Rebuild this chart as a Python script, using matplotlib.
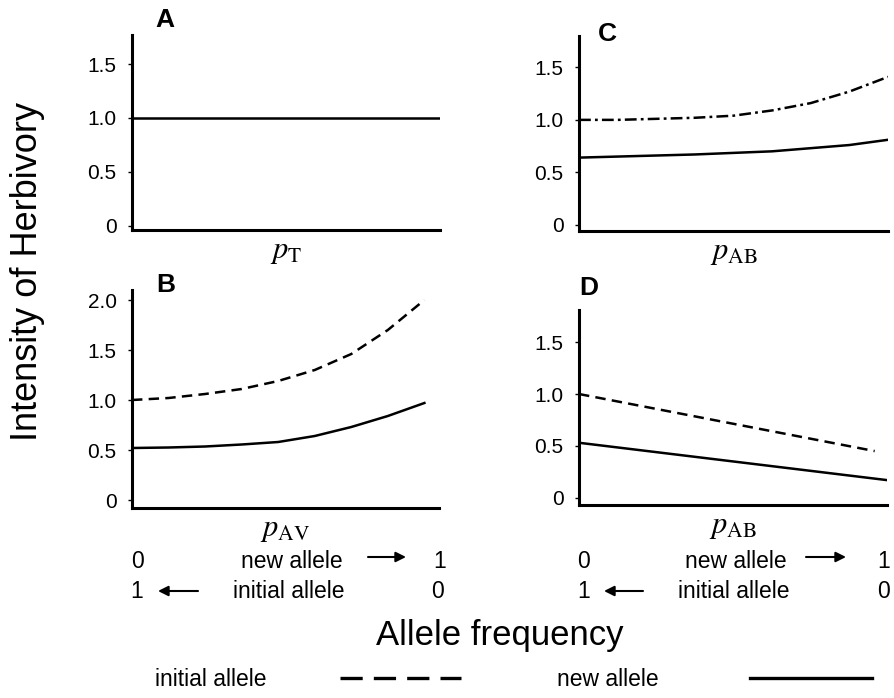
import matplotlib
matplotlib.use("Agg")
import matplotlib.pyplot as plt
from matplotlib.lines import Line2D

plt.rcParams['font.family'] = ['Liberation Sans', 'DejaVu Sans']
plt.rcParams['mathtext.fontset'] = 'stix'
plt.rcParams['lines.scale_dashes'] = False

W, H = 894, 698

# ---------------- data ----------------
# Panel A (p_T)
a_x = [0.0, 1.0]
a_new = [1.0, 1.0]

# Panel B (p_AV)
b_x = [0.0, 0.125, 0.25, 0.375, 0.5, 0.625, 0.75, 0.875, 1.0]
b_initial = [1.0, 1.02, 1.06, 1.11, 1.19, 1.30, 1.46, 1.70, 2.0]
b_new = [0.52, 0.525, 0.535, 0.555, 0.58, 0.64, 0.73, 0.84, 0.97]

# Panel C (p_AB)
c_x = [0.0, 0.125, 0.25, 0.375, 0.5, 0.625, 0.75, 0.875, 1.0]
c_other = [1.0, 1.0, 1.01, 1.02, 1.04, 1.09, 1.16, 1.27, 1.41]
c_new = [0.64, 0.65, 0.66, 0.67, 0.685, 0.70, 0.73, 0.76, 0.81]

# Panel D (p_AB)
d_x_initial = [0.0, 0.96]
d_initial = [1.0, 0.45]
d_x_new = [0.0, 1.0]
d_new = [0.53, 0.17]

ticks_a = [0, 0.5, 1.0, 1.5]
ticklabels_a = ['0', '0.5', '1.0', '1.5']
ticks_b = [0, 0.5, 1.0, 1.5, 2.0]
ticklabels_b = ['0', '0.5', '1.0', '1.5', '2.0']

xlabels = {'A': r'$p_{\mathrm{T}}$', 'B': r'$p_{\mathrm{AV}}$',
           'C': r'$p_{\mathrm{AB}}$', 'D': r'$p_{\mathrm{AB}}$'}

LW = 1.8
DASH = (0, (7.5, 4.5))
DASHDOT = (0, (8.5, 3, 2, 3))


def rect(l, r, t, b):
    return [l / W, 1 - b / H, (r - l) / W, (b - t) / H]


fig = plt.figure(figsize=(W / 100, H / 100), dpi=100)

axA = fig.add_axes(rect(132, 440, 35, 230))
axC = fig.add_axes(rect(579, 888, 36, 231))
axB = fig.add_axes(rect(132, 439, 290, 508))
axD = fig.add_axes(rect(579, 887, 310, 505))


def style(ax, ylim, ticks, labels, xlim=(0, 1)):
    ax.set_xlim(*xlim)
    ax.set_ylim(*ylim)
    for s in ['top', 'right']:
        ax.spines[s].set_visible(False)
    for s in ['left', 'bottom']:
        ax.spines[s].set_linewidth(2.2)
    ax.set_xticks([])
    ax.set_yticks(ticks)
    ax.set_yticklabels(labels)
    ax.tick_params(axis='y', length=3, width=1, pad=8, labelsize=15)


style(axA, (-0.04, 1.77), ticks_a, ticklabels_a)
style(axC, (-0.06, 1.80), ticks_a, ticklabels_a)
style(axB, (-0.08, 2.1), ticks_b, ticklabels_b, xlim=(0, 1.05))
style(axD, (-0.07, 1.81), ticks_a, ticklabels_a)

axA.plot(a_x, a_new, color='black', lw=LW, solid_capstyle='butt')
axB.plot(b_x, b_initial, color='black', lw=LW, linestyle=DASH)
axB.plot(b_x, b_new, color='black', lw=LW)
axC.plot(c_x, c_other, color='black', lw=LW, linestyle=DASHDOT)
axC.plot(c_x, c_new, color='black', lw=LW)
axD.plot(d_x_initial, d_initial, color='black', lw=LW, linestyle=DASH)
axD.plot(d_x_new, d_new, color='black', lw=LW)

for ax, key in [(axA, 'A'), (axB, 'B'), (axC, 'C'), (axD, 'D')]:
    ax.set_xlabel(xlabels[key], fontsize=22, labelpad=4)

# panel letters
for x, y, s in [(165, 20, 'A'), (607, 34, 'C'), (166, 285, 'B'), (589, 288, 'D')]:
    fig.text(x / W, 1 - y / H, s, fontsize=19, fontweight='bold',
             ha='center', va='center')

# y label
fig.text(28 / W, 1 - 271 / H, 'Intensity of Herbivory', rotation=90,
         fontsize=26, ha='center', va='center')

# allele frequency rows
TS = 16.5
rows = [
    # left panel
    (137, 562, '0'), (292, 562, 'new allele'), (440, 562, '1'),
    (137, 591, '1'), (289, 591, 'initial allele'), (438, 591, '0'),
    # right panel
    (584, 562, '0'), (736, 562, 'new allele'), (884, 562, '1'),
    (584, 591, '1'), (734, 591, 'initial allele'), (884, 591, '0'),
]
for x, y, s in rows:
    fig.text(x / W, 1 - y / H, s, fontsize=TS, ha='center', va='center')

arrows = [((368, 557), (406, 557)), ((198, 591), (158, 591)),
          ((806, 557), (846, 557)), ((643, 591), (604, 591))]
for (x0, y0), (x1, y1) in arrows:
    axA.annotate('', xy=(x1 / W, 1 - y1 / H), xytext=(x0 / W, 1 - y0 / H),
                 xycoords='figure fraction', textcoords='figure fraction',
                 annotation_clip=False,
                 arrowprops=dict(arrowstyle='-|>', lw=1.5, color='black',
                                 mutation_scale=15, shrinkA=0, shrinkB=0))

fig.text(500 / W, 1 - 636 / H, 'Allele frequency', fontsize=25,
         ha='center', va='center')

# legend (two single-entry legends, label before the line sample)
h_init = Line2D([], [], color='black', lw=2.4, linestyle=(0, (16, 8)))
h_new = Line2D([], [], color='black', lw=2.4)
fig.legend([h_init], ['initial allele'], loc='center left',
           bbox_to_anchor=(146 / W, 1 - 680 / H), frameon=False,
           markerfirst=False, fontsize=TS, handlelength=5.3,
           handletextpad=3.2, borderaxespad=0)
fig.legend([h_new], ['new allele'], loc='center left',
           bbox_to_anchor=(548 / W, 1 - 680 / H), frameon=False,
           markerfirst=False, fontsize=TS, handlelength=5.3,
           handletextpad=4.0, borderaxespad=0)

fig.savefig('out.png', dpi=100)
